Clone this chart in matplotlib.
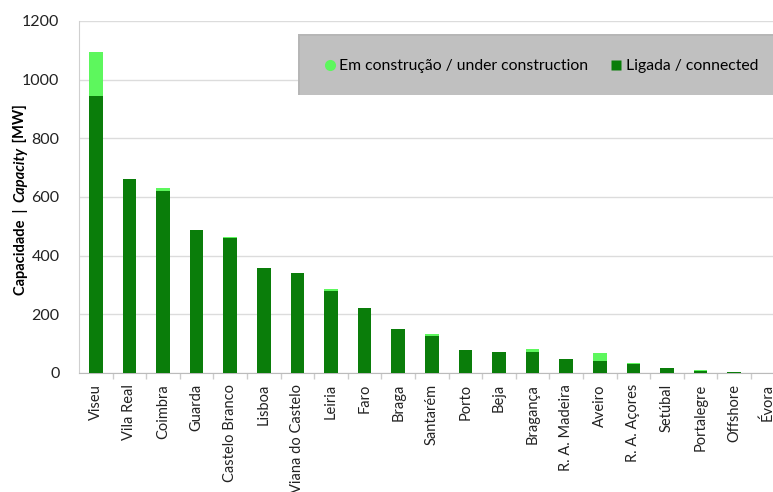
import matplotlib
matplotlib.use("Agg")
import matplotlib.pyplot as plt
from matplotlib.patches import Rectangle
from matplotlib.lines import Line2D
import numpy as np

plt.rcParams['font.family'] = ['Lato', 'DejaVu Sans']

districts = ["Viseu", "Vila Real", "Coimbra", "Guarda", "Castelo Branco", "Lisboa",
             "Viana do Castelo", "Leiria", "Faro", "Braga", "Santarém", "Porto", "Beja",
             "Bragança", "R. A. Madeira", "Aveiro", "R. A. Açores", "Setúbal",
             "Portalegre", "Offshore", "Évora"]
connected = [945, 662, 620, 487, 460, 359, 342, 280, 220, 149, 125, 78, 73,
             73, 47, 41, 32, 18, 8, 2, 0]
under_construction = [150, 0, 12, 0, 3, 0, 0, 8, 3, 0, 9, 0, 0,
                      9, 0, 27, 3, 0, 1, 0, 0]

yticks = [0, 200, 400, 600, 800, 1000, 1200]

dark_green = "#0a7d0a"
light_green = "#5df75d"

W, H = 773, 492
fig = plt.figure(figsize=(W / 100, H / 100), dpi=100)
# the category axis runs past the right border of the figure
ax = fig.add_axes([79 / W, (H - 373) / H, 705.6 / W, 352 / H])

x = np.arange(len(districts))
ax.bar(x, connected, width=0.4, color=dark_green, zorder=3)
ax.bar(x, under_construction, width=0.4, bottom=connected, color=light_green, zorder=3)

ax.set_xlim(-0.5, len(districts) - 0.5)
ax.set_ylim(0, 1200)
ax.set_yticks(yticks)
ax.set_yticklabels([str(v) for v in yticks], fontsize=11.5, color="#222222")
ax.tick_params(axis="y", length=0, pad=14)
ax.yaxis.grid(True, color="#dcdcdc", linewidth=1)
ax.set_axisbelow(True)

ax.set_xticks(x)
ax.set_xticklabels(districts, rotation=90, fontsize=10.5, color="#222222")
ax.tick_params(axis="x", which="major", length=0, pad=8)
ax.set_xticks(x[:-1] + 0.5, minor=True)
ax.tick_params(axis="x", which="minor", length=4, color="#cccccc", width=1)

for side in ("top", "right"):
    ax.spines[side].set_visible(False)
ax.spines["left"].set_color("#d0d0d0")
ax.spines["bottom"].set_color("#bbbbbb")

# y-axis title in bold, with "Capacity" in bold italic
parts = [("Capacidade  |  ", "normal"), ("Capacity", "italic"), (" [MW]", "normal")]
prev = fig.text(13 / W, (H - 295) / H, parts[0][0], rotation=90, fontsize=10.5,
                fontweight="bold", style=parts[0][1], ha="left", va="bottom")
for s, st in parts[1:]:
    prev = ax.annotate(s, xycoords=prev, xy=(0, 1), va="bottom", ha="left",
                       rotation=90, fontsize=10.5, fontweight="bold", style=st,
                       annotation_clip=False)

# grey legend panel with a faint shadow
shadow = Rectangle((298 / W, (H - 95) / H), 482 / W, 61 / H, transform=fig.transFigure,
                   facecolor="#b6b6b6", edgecolor="none", zorder=4)
panel = Rectangle((300 / W, (H - 95) / H), 480 / W, 59 / H, transform=fig.transFigure,
                  facecolor="#c0c0c0", edgecolor="none", zorder=5)
fig.patches.extend([shadow, panel])
handles = [Line2D([], [], marker="o", linestyle="none", markersize=8,
                  markerfacecolor=light_green, markeredgecolor="none"),
           Line2D([], [], marker="s", linestyle="none", markersize=7,
                  markerfacecolor=dark_green, markeredgecolor="none")]
leg = fig.legend(handles, ["Em construção / under construction", "Ligada / connected"],
                 loc="center", bbox_to_anchor=(540 / W, (H - 66) / H), ncol=2,
                 frameon=False, fontsize=11.3, handletextpad=0.1, columnspacing=1.3,
                 handlelength=1.0)
leg.set_zorder(6)

fig.savefig("out.png", dpi=100)
